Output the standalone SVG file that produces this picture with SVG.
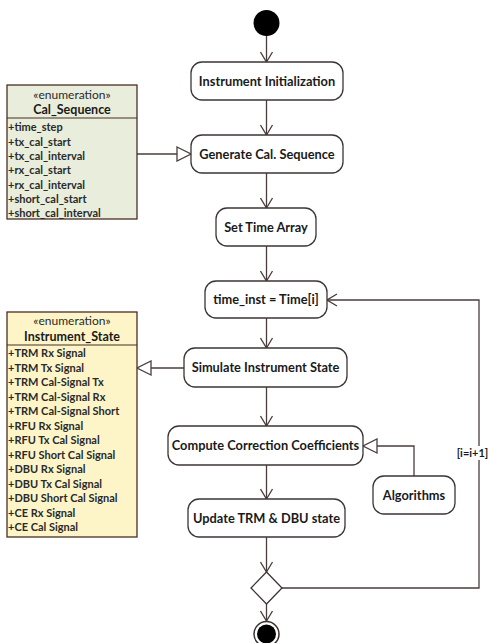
<svg xmlns="http://www.w3.org/2000/svg" width="491" height="643" viewBox="0 0 491 643">
<style>
.act{fill:#ffffff;stroke:#3d3535;stroke-width:1.3}
.lbl{font-family:Lato,"Liberation Sans",sans-serif;font-weight:bold;font-size:12.8px;fill:#1a1a1a;text-anchor:middle}
.cls-g{fill:#e9eddc;stroke:#4a2e25;stroke-width:1.3}
.cls-y{fill:#fdf5c8;stroke:#4a2e25;stroke-width:1.3}
.div{stroke:#4a2e25;stroke-width:1.2}
.st{font-family:Lato,"Liberation Sans",sans-serif;font-size:12px;fill:#2a2a2a;text-anchor:middle}
.cn{font-family:Lato,"Liberation Sans",sans-serif;font-weight:bold;font-size:12.5px;fill:#1a1a1a;text-anchor:middle}
.it{font-family:Lato,"Liberation Sans",sans-serif;font-weight:bold;font-size:11px;fill:#2a2a2a}
.edge{fill:none;stroke:#4a3c3c;stroke-width:1.3}
.guard{font-family:Lato,"Liberation Sans",sans-serif;font-weight:bold;font-size:11px;fill:#1a1a1a;text-anchor:middle}
</style>
<defs>
<marker id="open" viewBox="0 0 12 14" refX="11" refY="7" markerWidth="12" markerHeight="14" markerUnits="userSpaceOnUse" orient="auto">
<path d="M1,1 L11,7 L1,13" fill="none" stroke="#4a3c3c" stroke-width="1.3"/>
</marker>
<marker id="tri" viewBox="0 0 16 16" refX="15" refY="8" markerWidth="16" markerHeight="16" markerUnits="userSpaceOnUse" orient="auto">
<path d="M1,1 L15,8 L1,15 Z" fill="#ffffff" stroke="#4a3c3c" stroke-width="1.3"/>
</marker>
</defs>

<g id="connectors">
<line class="edge" x1="266.5" y1="36" x2="266.5" y2="62" marker-end="url(#open)"/>
<line class="edge" x1="266.5" y1="100" x2="266.5" y2="135" marker-end="url(#open)"/>
<line class="edge" x1="266.5" y1="173" x2="266.5" y2="208" marker-end="url(#open)"/>
<line class="edge" x1="266.5" y1="246" x2="266.5" y2="281" marker-end="url(#open)"/>
<line class="edge" x1="266.5" y1="318" x2="266.5" y2="348" marker-end="url(#open)"/>
<line class="edge" x1="266.5" y1="387" x2="266.5" y2="426" marker-end="url(#open)"/>
<line class="edge" x1="266.5" y1="465" x2="266.5" y2="499" marker-end="url(#open)"/>
<line class="edge" x1="266.5" y1="537" x2="266.5" y2="572" marker-end="url(#open)"/>
<line class="edge" x1="266.5" y1="604" x2="266.5" y2="621" marker-end="url(#open)"/>
<polyline class="edge" points="282,588 479,588 479,300 327,300" marker-end="url(#open)"/>
<line class="edge" x1="137" y1="154" x2="191" y2="154" marker-end="url(#tri)"/>
<line class="edge" x1="184" y1="368" x2="137" y2="368" marker-end="url(#tri)"/>
<polyline class="edge" points="414,476 414,446 363,446" marker-end="url(#tri)"/>
<rect x="457" y="446" width="32" height="14" fill="#ffffff"/>
<text class="guard" x="472.5" y="457">[i=i+1]</text>
</g>

<g id="start">
<circle cx="266.5" cy="23" r="13" fill="#000000"/>
</g>

<g id="n_init">
<rect class="act" x="191" y="62" width="152" height="38" rx="11"/>
<text class="lbl" x="267" y="85.5">Instrument Initialization</text>
</g>

<g id="n_gen">
<rect class="act" x="191" y="135" width="152" height="38" rx="11"/>
<text class="lbl" x="267" y="158.5">Generate Cal. Sequence</text>
</g>

<g id="n_set">
<rect class="act" x="216" y="208" width="100" height="38" rx="11"/>
<text class="lbl" x="266" y="231.5">Set Time Array</text>
</g>

<g id="n_time">
<rect class="act" x="205" y="281" width="122" height="37" rx="11"/>
<text class="lbl" x="266" y="304">time_inst = Time[i]</text>
</g>

<g id="n_sim">
<rect class="act" x="184" y="348" width="163" height="39" rx="11"/>
<text class="lbl" x="265.5" y="372">Simulate Instrument State</text>
</g>

<g id="n_comp">
<rect class="act" x="168" y="426" width="195" height="39" rx="11"/>
<text class="lbl" x="265.5" y="450">Compute Correction Coefficients</text>
</g>

<g id="n_alg">
<rect class="act" x="373" y="476" width="82" height="38" rx="11"/>
<text class="lbl" x="414" y="499.5">Algorithms</text>
</g>

<g id="n_upd">
<rect class="act" x="188" y="499" width="157" height="38" rx="11"/>
<text class="lbl" x="266.5" y="522.5">Update TRM &amp; DBU state</text>
</g>

<g id="n_dec">
<polygon points="266.5,572 282,588 266.5,604 251,588" fill="#ffffff" stroke="#3d3535" stroke-width="1.3"/>
</g>

<g id="end">
<circle cx="266.5" cy="634" r="12.5" fill="#ffffff" stroke="#3a3030" stroke-width="1.5"/>
<circle cx="266.5" cy="634" r="9.5" fill="#000000"/>
</g>

<g id="cal_sequence">
<rect class="cls-g" x="7" y="85" width="130" height="134"/>
<line class="div" x1="7" y1="118" x2="137" y2="118"/>
<text class="st" x="72" y="99">«enumeration»</text>
<text class="cn" x="72" y="113.5">Cal_Sequence</text>
<text class="it" x="8" y="131">+time_step</text>
<text class="it" x="8" y="145.5">+tx_cal_start</text>
<text class="it" x="8" y="160">+tx_cal_interval</text>
<text class="it" x="8" y="174">+rx_cal_start</text>
<text class="it" x="8" y="188.5">+rx_cal_interval</text>
<text class="it" x="8" y="202.5">+short_cal_start</text>
<text class="it" x="8" y="217">+short_cal_interval</text>
</g>

<g id="instrument_state">
<rect class="cls-y" x="7" y="312" width="130" height="225"/>
<line class="div" x1="7" y1="345" x2="137" y2="345"/>
<text class="st" x="72" y="325">«enumeration»</text>
<text class="cn" x="72" y="340.5">Instrument_State</text>
<text class="it" x="8" y="357">+TRM Rx Signal</text>
<text class="it" x="8" y="371.5">+TRM Tx Signal</text>
<text class="it" x="8" y="386">+TRM Cal-Signal Tx</text>
<text class="it" x="8" y="400.5">+TRM Cal-Signal Rx</text>
<text class="it" x="8" y="415">+TRM Cal-Signal Short</text>
<text class="it" x="8" y="429.5">+RFU Rx Signal</text>
<text class="it" x="8" y="444">+RFU Tx Cal Signal</text>
<text class="it" x="8" y="458.5">+RFU Short Cal Signal</text>
<text class="it" x="8" y="473">+DBU Rx Signal</text>
<text class="it" x="8" y="487.5">+DBU Tx Cal Signal</text>
<text class="it" x="8" y="502">+DBU Short Cal Signal</text>
<text class="it" x="8" y="516.5">+CE Rx Signal</text>
<text class="it" x="8" y="531">+CE Cal Signal</text>
</g>
</svg>
